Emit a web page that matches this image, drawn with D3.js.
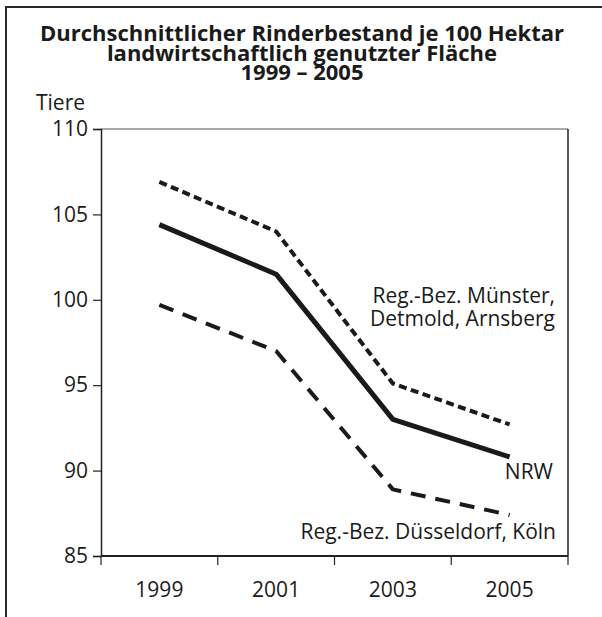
<!DOCTYPE html>
<html>
<head>
<meta charset="utf-8">
<script src="https://cdn.jsdelivr.net/npm/d3@7"></script>
<style>
  body { margin:0; background:#fff; }
  text { font-family: "Open Sans", "DejaVu Sans", sans-serif; fill:#1a1a1a; }
</style>
</head>
<body>
<div id="chart"></div>
<script>
var years = ["1999", "2001", "2003", "2005"];
var yTicks = [85, 90, 95, 100, 105, 110];
var nrw = [104.4, 101.5, 93.0, 90.8];
var muenster = [106.9, 104.0, 95.1, 92.7];
var duesseldorf = [99.7, 97.0, 88.9, 87.4];
var titleLines = ["Durchschnittlicher Rinderbestand je 100 Hektar", "landwirtschaftlich genutzter Fläche", "1999 – 2005"];

var W = 602, H = 617;
var m = {top:129, right:34, bottom:61, left:101};
var fs = "21px";

var svg = d3.select("#chart").append("svg")
    .attr("width", W).attr("height", H);

// outer frame (top + left only, picture is cropped)
svg.append("path")
    .attr("d", "M6,617V7H602")
    .style("fill","none").style("stroke","#2a2a2a").style("stroke-width",2);

// title
svg.selectAll("text.title").data(titleLines).enter().append("text")
    .attr("class","title")
    .attr("x", 302)
    .attr("y", function(d,i){ return 41 + i*19.5; })
    .style("text-anchor","middle")
    .style("font-weight","bold")
    .style("font-size","22px")
    .text(function(d){ return d; });

var x = d3.scaleBand().domain(years).range([m.left, W - m.right]);
var y = d3.scaleLinear().domain([85,110]).range([H - m.bottom, m.top]);

// plot box
svg.append("line").attr("x1",m.left).attr("x2",W-m.right).attr("y1",m.top).attr("y2",m.top)
    .style("stroke","#555").style("stroke-width",1);
svg.append("line").attr("x1",W-m.right).attr("x2",W-m.right).attr("y1",m.top).attr("y2",H-m.bottom)
    .style("stroke","#222").style("stroke-width",1.5);

// y axis
var yAxis = d3.axisLeft(y).tickValues(yTicks).tickSize(8).tickPadding(5);
var gy = svg.append("g").attr("transform","translate("+m.left+",0)").call(yAxis);
gy.select(".domain").style("stroke","#222").style("stroke-width",1.5);
gy.selectAll(".tick line").style("stroke","#222").style("stroke-width",1.2);
gy.selectAll(".tick text").style("font-size",fs).style("font-family","'Open Sans', sans-serif").style("fill","#1a1a1a");

// x axis: ticks at band edges, labels in band centres
var gx = svg.append("g").attr("transform","translate(0,"+(H-m.bottom)+")");
gx.append("line").attr("x1",m.left).attr("x2",W-m.right)
    .style("stroke","#222").style("stroke-width",2);
var edges = years.map(function(d){ return x(d); }).concat([W - m.right]);
gx.selectAll("line.tk").data(edges).enter().append("line")
    .attr("class","tk")
    .attr("x1",function(d){return d;}).attr("x2",function(d){return d;})
    .attr("y1",0).attr("y2",9)
    .style("stroke","#222").style("stroke-width",1.2);
gx.selectAll("text").data(years).enter().append("text")
    .attr("x",function(d){ return x(d) + x.bandwidth()/2; })
    .attr("y",41)
    .style("text-anchor","middle")
    .style("font-size",fs)
    .text(function(d){ return d; });

// y unit
svg.append("text").attr("x",36).attr("y",110).style("font-size",fs).text("Tiere");

// lines
var line = d3.line()
    .x(function(d,i){ return x(years[i]) + x.bandwidth()/2; })
    .y(function(d){ return y(d); });

var series = [
    {vals:muenster, dash:"8,4.5", w:4},
    {vals:nrw, dash:null, w:5},
    {vals:duesseldorf, dash:"15,10", w:4}
];
svg.selectAll("path.series").data(series).enter().append("path")
    .attr("class","series")
    .attr("d", function(s){ return line(s.vals); })
    .style("fill","none")
    .style("stroke","#1a1a1a")
    .style("stroke-width",function(s){ return s.w; })
    .style("stroke-dasharray",function(s){ return s.dash; })
    .style("stroke-linejoin","round");

// series labels
var labels = [
    {t:"Reg.-Bez. Münster,", x:555, y:303},
    {t:"Detmold, Arnsberg", x:555, y:326},
    {t:"NRW", x:553, y:479},
    {t:"Reg.-Bez. Düsseldorf, Köln", x:556, y:539}
];
svg.selectAll("text.lbl").data(labels).enter().append("text")
    .attr("class","lbl")
    .attr("x",function(d){return d.x;}).attr("y",function(d){return d.y;})
    .style("text-anchor","end")
    .style("font-size",fs)
    .text(function(d){return d.t;});
</script>
</body>
</html>
